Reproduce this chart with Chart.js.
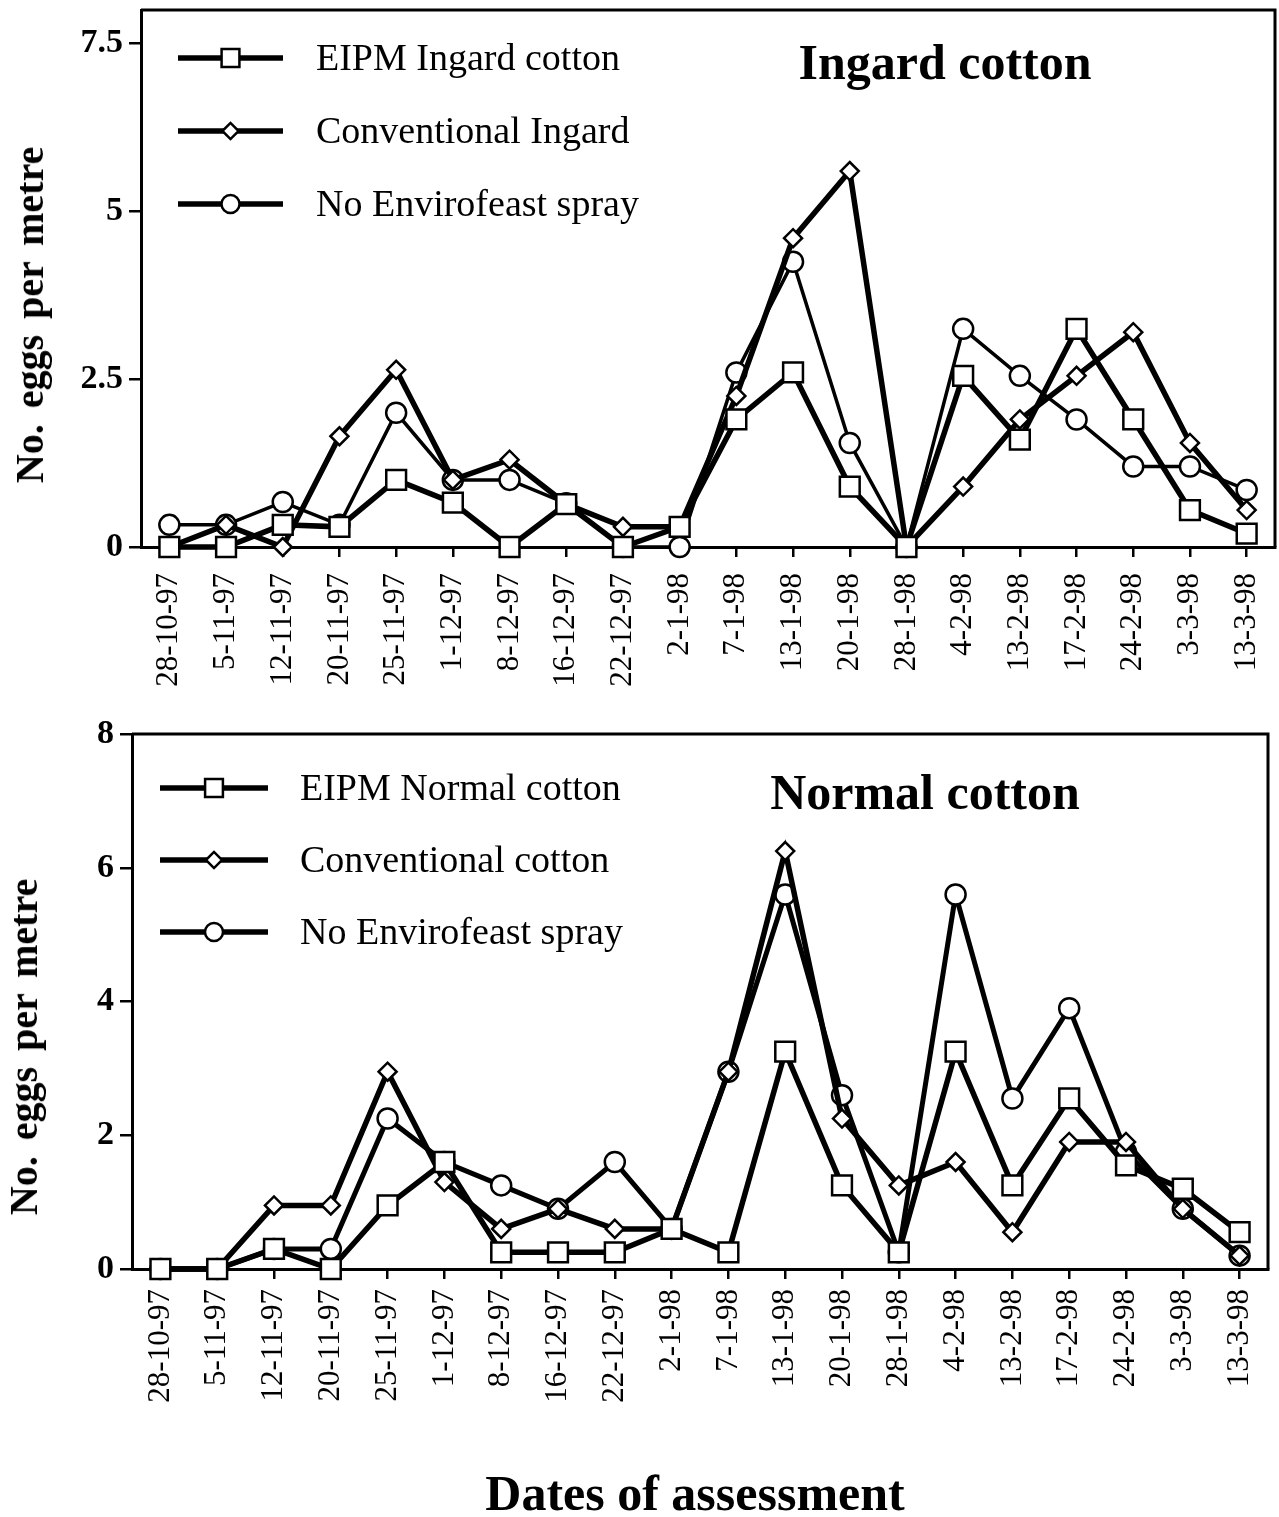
<!DOCTYPE html>
<html>
<head>
<meta charset="utf-8">
<script src="https://cdn.jsdelivr.net/npm/chart.js@4.4.0/dist/chart.umd.min.js"></script>
<style>
html,body{margin:0;padding:0;background:#fff;}
body{width:1279px;height:1517px;position:relative;overflow:hidden;font-family:"Liberation Serif","Times New Roman",serif;color:#000;}
.cw{position:absolute;left:0;width:1279px;}
#c1w{top:0;height:720px;}
#c2w{top:720px;height:797px;}
.lbl{position:absolute;white-space:nowrap;line-height:1;font-weight:bold;transform:translate(-50%,-50%);}
.rot{transform:translate(-50%,-50%) rotate(-90deg);word-spacing:6px;}
</style>
</head>
<body>
<div class="cw" id="c1w"><canvas id="c1" width="1279" height="720"></canvas></div>
<div class="cw" id="c2w"><canvas id="c2" width="1279" height="797"></canvas></div>
<div class="lbl" style="left:945px;top:62px;font-size:50px;">Ingard cotton</div>
<div class="lbl" style="left:925px;top:792px;font-size:50px;">Normal cotton</div>
<div class="lbl rot" style="left:30px;top:315px;font-size:40px;">No. eggs per metre</div>
<div class="lbl rot" style="left:24px;top:1047px;font-size:40px;">No. eggs per metre</div>
<div class="lbl" style="left:695px;top:1493px;font-size:50px;">Dates of assessment</div>
<script>
// ---- data ----
const categories = ['28-10-97','5-11-97','12-11-97','20-11-97','25-11-97','1-12-97','8-12-97','16-12-97','22-12-97','2-1-98','7-1-98','13-1-98','20-1-98','28-1-98','4-2-98','13-2-98','17-2-98','24-2-98','3-3-98','13-3-98'];

const eipmIngard   = [0, 0, 0.33, 0.3, 1.0, 0.66, 0, 0.64, 0, 0.3, 1.9, 2.6, 0.9, 0, 2.55, 1.6, 3.25, 1.9, 0.55, 0.2];
const convIngard   = [0, 0.33, 0, 1.65, 2.64, 1.0, 1.3, 0.64, 0.3, 0.3, 2.25, 4.6, 5.6, 0, 0.9, 1.9, 2.55, 3.2, 1.55, 0.55];
const noEnviroTop  = [0.33, 0.33, 0.67, 0.33, 2.0, 1.0, 1.0, 0.65, 0, 0, 2.6, 4.25, 1.55, 0, 3.25, 2.55, 1.9, 1.2, 1.2, 0.85];

const eipmNormal     = [0, 0, 0.3, 0, 0.95, 1.6, 0.25, 0.25, 0.25, 0.6, 0.25, 3.25, 1.25, 0.25, 3.25, 1.25, 2.55, 1.55, 1.2, 0.55];
const convNormal     = [0, 0, 0.95, 0.95, 2.95, 1.3, 0.6, 0.9, 0.6, 0.6, 2.95, 6.25, 2.25, 1.25, 1.6, 0.55, 1.9, 1.9, 0.9, 0.2];
const noEnviroBottom = [0, 0, 0.3, 0.3, 2.25, 1.6, 1.25, 0.9, 1.6, 0.6, 2.95, 5.6, 2.6, 0.25, 5.6, 2.55, 3.9, 1.75, 0.9, 0.2];

const yTicksTop = [0, 2.5, 5, 7.5];
const yTicksBottom = [0, 2, 4, 6, 8];

const labelsTop = ['EIPM Ingard cotton', 'Conventional Ingard', 'No Envirofeast spray'];
const labelsBottom = ['EIPM Normal cotton', 'Conventional cotton', 'No Envirofeast spray'];

// ---- styling helpers ----
const SERIF = '"Liberation Serif","Times New Roman",serif';

function drawMarker(ctx, style, r, x, y, bw) {
  ctx.beginPath();
  if (style === 'rect') {
    const s = r * Math.SQRT1_2;
    ctx.rect(x - s, y - s, 2 * s, 2 * s);
  } else if (style === 'rectRot') {
    ctx.moveTo(x - r, y); ctx.lineTo(x, y - r); ctx.lineTo(x + r, y); ctx.lineTo(x, y + r); ctx.closePath();
  } else {
    ctx.arc(x, y, r, 0, Math.PI * 2);
  }
  ctx.fillStyle = '#fff'; ctx.fill();
  ctx.lineWidth = bw; ctx.strokeStyle = '#000'; ctx.stroke();
}

const lineLegend = {
  id: 'lineLegend',
  afterDraw(chart, args, o) {
    const ctx = chart.ctx;
    ctx.save();
    chart.data.datasets.forEach((ds, i) => {
      const y = o.y0 + i * o.dy;
      ctx.beginPath();
      ctx.strokeStyle = '#000';
      ctx.lineWidth = o.lw;
      ctx.lineCap = 'butt';
      ctx.moveTo(o.x0, y); ctx.lineTo(o.x1, y); ctx.stroke();
      drawMarker(ctx, ds.pointStyle, ds.pointRadius * 0.9, (o.x0 + o.x1) / 2, y, 2.5);
      ctx.fillStyle = '#000';
      ctx.font = o.fontSize + 'px ' + SERIF;
      ctx.textBaseline = 'middle';
      ctx.textAlign = 'left';
      ctx.fillText(ds.label, o.tx, y + 2);
    });
    ctx.restore();
  }
};

const frame = {
  id: 'frame',
  beforeDatasetsDraw(chart) {
    const {ctx, chartArea: a} = chart;
    ctx.save();
    ctx.strokeStyle = '#000';
    ctx.lineWidth = 3;
    ctx.beginPath();
    ctx.moveTo(a.left, a.top); ctx.lineTo(a.right, a.top); ctx.lineTo(a.right, a.bottom);
    ctx.stroke();
    ctx.restore();
  }
};

function makeDatasets(labels, a, b, c, widths) {
  return [
    {label: labels[0], data: a, pointStyle: 'rect', pointRadius: 14, borderWidth: widths[0]},
    {label: labels[1], data: b, pointStyle: 'rectRot', pointRadius: 9, borderWidth: widths[1]},
    {label: labels[2], data: c, pointStyle: 'circle', pointRadius: 10, borderWidth: widths[2]}
  ].map(d => Object.assign(d, {
    borderColor: '#000', backgroundColor: '#fff',
    pointBackgroundColor: '#fff', pointBorderColor: '#000', pointBorderWidth: 2.5,
    tension: 0, fill: false, clip: false
  }));
}

function makeChart(id, cfg) {
  return new Chart(document.getElementById(id), {
    type: 'line',
    data: {labels: categories, datasets: makeDatasets(cfg.labels, cfg.a, cfg.b, cfg.c, cfg.widths)},
    plugins: [frame, lineLegend],
    options: {
      responsive: false, animation: false, devicePixelRatio: 1,
      layout: {padding: cfg.padding, autoPadding: false},
      plugins: {legend: {display: false}, tooltip: {enabled: false}, lineLegend: cfg.legend},
      scales: {
        x: {
          type: 'category', offset: true,
          grid: {offset: false, drawOnChartArea: false, drawTicks: true, tickLength: 10, color: '#000', lineWidth: 2.5},
          border: {display: true, color: '#000', width: 3},
          ticks: {autoSkip: false, maxRotation: 90, minRotation: 90, padding: cfg.xPad, color: '#000',
                  font: {family: SERIF, size: 31}},
          afterFit: s => { s.height = cfg.xH; s.paddingLeft = 0; s.paddingRight = 0; }
        },
        y: {
          min: 0, max: 8,
          afterBuildTicks: s => { s.ticks = cfg.yTicks.map(v => ({value: v})); },
          grid: {drawOnChartArea: false, drawTicks: true, tickLength: 12, color: '#000', lineWidth: 2.5},
          border: {display: true, color: '#000', width: 3},
          ticks: {padding: 6, color: '#000', font: {family: SERIF, size: 34, weight: 'bold'},
                  callback: v => String(v)},
          afterFit: s => { s.width = cfg.yW; s.paddingTop = 0; s.paddingBottom = 0; }
        }
      }
    }
  });
}

makeChart('c1', {
  labels: labelsTop, a: eipmIngard, b: convIngard, c: noEnviroTop, widths: [5.5, 5.5, 3.5],
  padding: {top: 10, right: 4, left: 0, bottom: 0},
  xH: 720 - 547, xPad: 16, yW: 141, yTicks: yTicksTop,
  legend: {x0: 178, x1: 283, y0: 58, dy: 73, tx: 316, lw: 5.5, fontSize: 38}
});

makeChart('c2', {
  labels: labelsBottom, a: eipmNormal, b: convNormal, c: noEnviroBottom, widths: [5.5, 5.5, 5],
  padding: {top: 14, right: 11, left: 0, bottom: 0},
  xH: 797 - 549, xPad: 10, yW: 132, yTicks: yTicksBottom,
  legend: {x0: 160, x1: 268, y0: 68, dy: 72, tx: 300, lw: 5.5, fontSize: 38}
});
</script>
</body>
</html>
